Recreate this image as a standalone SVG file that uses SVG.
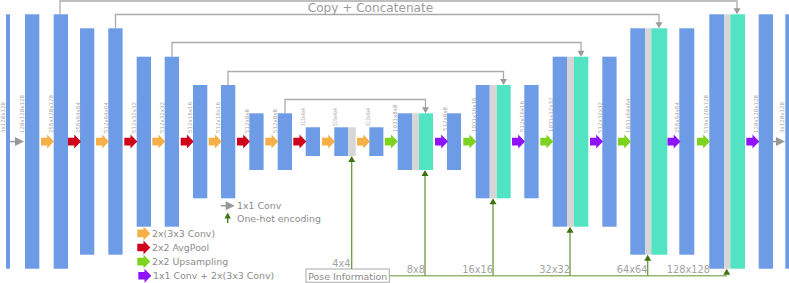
<svg xmlns="http://www.w3.org/2000/svg" xmlns:xlink="http://www.w3.org/1999/xlink" width="789" height="283" viewBox="0 0 789 283">
<style>
.b{fill:#6e9be6}
.g{fill:#d6d6d6}
.t{fill:#52e3c2}
.lbl{font-family:"DejaVu Sans",sans-serif;font-size:5.5px;fill:#a6a6a6}
.skip{fill:none;stroke:#ababab;stroke-width:1.3}
.sh{fill:#9a9a9a}
.ph{fill:none;stroke:#93b874;stroke-width:1.5}
.pv{fill:none;stroke:#6b9a3c;stroke-width:1.3}
.phd{fill:#3f7312}
.leg{font-family:"DejaVu Sans",sans-serif;font-size:9.4px;fill:#8c8c8c}
.sz{font-family:"DejaVu Sans",sans-serif;font-size:9.8px;fill:#a3a3a3}
.or{fill:#f7b048}
.rd{fill:#d0021b}
.gn{fill:#7ed321}
.pu{fill:#9013fe}
.gl{stroke:#999;stroke-width:1.5}
.gh{fill:#999}
</style>
<defs>
<path id="ba" d="M0,-3.8 H6.2 V-7 L13,0 L6.2,7 V3.8 H0 Z"/>
<g id="ga"><path class="gl" d="M0,0 H6"/><path class="gh" d="M5,-4.5 L14,0 L5,4.5 Z"/></g>
<path id="dh" d="M-3.5,-6 L3.5,-6 L0,0 Z"/>
<path id="uh" d="M-3.5,6 L3.5,6 L0,0 Z"/>
</defs>

<g id="n0"><rect class="b" x="6" y="14.3" width="4" height="254.4"/><text class="lbl" transform="translate(5.3,133) rotate(-90)">3x128x128</text></g>
<g id="n1"><rect class="b" x="25" y="14.3" width="14.3" height="254.4"/><text class="lbl" transform="translate(24,133) rotate(-90)">128x128x128</text></g>
<g id="n2"><rect class="b" x="53.7" y="14.3" width="14.3" height="254.4"/><text class="lbl" transform="translate(52.5,133) rotate(-90)">256x128x128</text></g>
<g id="n3"><rect class="b" x="80" y="28.3" width="14.3" height="226.4"/><text class="lbl" transform="translate(79.5,133) rotate(-90)">256x64x64</text></g>
<g id="n4"><rect class="b" x="108.3" y="28.3" width="14.3" height="226.4"/><text class="lbl" transform="translate(107.5,133) rotate(-90)">512x64x64</text></g>
<g id="n5"><rect class="b" x="136.7" y="56.7" width="14.3" height="170"/><text class="lbl" transform="translate(135.5,133) rotate(-90)">512x32x32</text></g>
<g id="n6"><rect class="b" x="164.7" y="56.7" width="14.3" height="170"/><text class="lbl" transform="translate(163.5,133) rotate(-90)">512x32x32</text></g>
<g id="n7"><rect class="b" x="193" y="85" width="14.3" height="113.3"/><text class="lbl" transform="translate(192,133) rotate(-90)">512x16x16</text></g>
<g id="n8"><rect class="b" x="221" y="85" width="14.3" height="113.3"/><text class="lbl" transform="translate(220,133) rotate(-90)">512x16x16</text></g>
<g id="n9"><rect class="b" x="249.3" y="113.3" width="14.3" height="56.7"/><text class="lbl" transform="translate(248.5,133) rotate(-90)">512x8x8</text></g>
<g id="n10"><rect class="b" x="277.7" y="113.3" width="14.3" height="56.7"/><text class="lbl" transform="translate(277,133) rotate(-90)">512x8x8</text></g>
<g id="n11"><rect class="b" x="305.7" y="127.3" width="14.3" height="28.7"/><text class="lbl" transform="translate(305,126) rotate(-90)" textLength="18" lengthAdjust="spacingAndGlyphs">512x4x4</text></g>
<g id="n12"><rect class="b" x="334.3" y="127.3" width="14" height="28.7"/><rect class="g" x="348.3" y="127.3" width="7.4" height="28.7"/><text class="lbl" transform="translate(336.5,126) rotate(-90)" textLength="18" lengthAdjust="spacingAndGlyphs">519x4x4</text></g>
<g id="n13"><rect class="b" x="369.3" y="127.3" width="14.1" height="28.7"/><text class="lbl" transform="translate(370,126) rotate(-90)" textLength="18" lengthAdjust="spacingAndGlyphs">512x4x4</text></g>
<g id="n14"><rect class="b" x="397.7" y="113.3" width="14.3" height="56.7"/><rect class="g" x="412" y="113.3" width="7" height="56.7"/><rect class="t" x="419" y="113.3" width="14" height="56.7"/><text class="lbl" transform="translate(397,132) rotate(-90)">1031x8x8</text></g>
<g id="n15"><rect class="b" x="447" y="113.3" width="14" height="56.7"/><text class="lbl" transform="translate(447,131) rotate(-90)">512x8x8</text></g>
<g id="n16"><rect class="b" x="475.7" y="85" width="14" height="113.3"/><rect class="g" x="489.7" y="85" width="7" height="113.3"/><rect class="t" x="496.7" y="85" width="14" height="113.3"/><text class="lbl" transform="translate(476,132) rotate(-90)">1031x16x16</text></g>
<g id="n17"><rect class="b" x="524.3" y="85" width="14.3" height="113.3"/><text class="lbl" transform="translate(524,132) rotate(-90)">512x16x16</text></g>
<g id="n18"><rect class="b" x="552.7" y="56.7" width="14.3" height="170"/><rect class="g" x="567" y="56.7" width="7" height="170"/><rect class="t" x="574" y="56.7" width="14.3" height="170"/><text class="lbl" transform="translate(552.5,132) rotate(-90)">1031x32x32</text></g>
<g id="n19"><rect class="b" x="602.3" y="56.7" width="14.3" height="170"/><text class="lbl" transform="translate(601.8,133) rotate(-90)">512x32x32</text></g>
<g id="n20"><rect class="b" x="630.3" y="28.3" width="14.7" height="226.4"/><rect class="g" x="645" y="28.3" width="6.3" height="226.4"/><rect class="t" x="651.3" y="28.3" width="16" height="226.4"/><text class="lbl" transform="translate(630,133) rotate(-90)">1031x64x64</text></g>
<g id="n21"><rect class="b" x="679.3" y="28.3" width="15" height="226.4"/><text class="lbl" transform="translate(678.8,133) rotate(-90)">256x64x64</text></g>
<g id="n22"><rect class="b" x="709.3" y="14.3" width="14.7" height="254.4"/><rect class="g" x="724" y="14.3" width="6.3" height="254.4"/><rect class="t" x="730.3" y="14.3" width="14.7" height="254.4"/><text class="lbl" transform="translate(708.3,133) rotate(-90)">519x128x128</text></g>
<g id="n23"><rect class="b" x="758.7" y="14.3" width="14.3" height="254.4"/><text class="lbl" transform="translate(757.5,133) rotate(-90)">128x128x128</text></g>
<g id="n24"><rect class="b" x="785.3" y="14.3" width="4" height="254.4"/><text class="lbl" transform="translate(783.5,133) rotate(-90)">3x128x128</text></g>

<g id="pose">
<rect x="306" y="269" width="83.3" height="13.3" fill="#fff" stroke="#aaa" stroke-width="1"/>
<text class="leg" x="308.3" y="279.6" font-size="9.3" fill="#999">Pose Information</text>
</g>

<g id="connectors">
<use href="#ga" x="10" y="141.6"/>
<use href="#ba" class="or" x="41" y="141.6"/>
<use href="#ba" class="rd" x="68" y="141.6"/>
<use href="#ba" class="or" x="96" y="141.6"/>
<use href="#ba" class="rd" x="124.3" y="141.6"/>
<use href="#ba" class="or" x="152.3" y="141.6"/>
<use href="#ba" class="rd" x="180.7" y="141.6"/>
<use href="#ba" class="or" x="208.7" y="141.6"/>
<use href="#ba" class="rd" x="237" y="141.6"/>
<use href="#ba" class="or" x="265.3" y="141.6"/>
<use href="#ba" class="rd" x="293.3" y="141.6"/>
<use href="#ba" class="or" x="322" y="141.6"/>
<use href="#ba" class="or" x="357" y="141.6"/>
<use href="#ba" class="gn" x="384.8" y="141.6"/>
<use href="#ba" class="pu" x="435" y="141.6"/>
<use href="#ba" class="gn" x="463.3" y="141.6"/>
<use href="#ba" class="pu" x="512" y="141.6"/>
<use href="#ba" class="gn" x="540.3" y="141.6"/>
<use href="#ba" class="pu" x="590" y="141.6"/>
<use href="#ba" class="gn" x="618" y="141.6"/>
<use href="#ba" class="pu" x="667.5" y="141.6"/>
<use href="#ba" class="gn" x="697" y="141.6"/>
<use href="#ba" class="pu" x="746.3" y="141.6"/>
<use href="#ga" x="771" y="141.6"/>

<path class="skip" d="M60,14.3 V1 H737 V9"/>
<use href="#dh" class="sh" x="737" y="14.3"/>
<path class="skip" d="M115.5,28.3 V14.5 H659 V23"/>
<use href="#dh" class="sh" x="659" y="28.3"/>
<path class="skip" d="M172,56.7 V42.5 H581 V51"/>
<use href="#dh" class="sh" x="581" y="56.7"/>
<path class="skip" d="M228,85 V71.5 H503.5 V80"/>
<use href="#dh" class="sh" x="503.5" y="85"/>
<path class="skip" d="M285,113.3 V99.5 H425.5 V108"/>
<use href="#dh" class="sh" x="425.5" y="113.3"/>

<path class="ph" d="M389.3,275.7 H727"/>
<path class="pv" d="M351.7,269 V161"/>
<use href="#uh" class="phd" x="351.7" y="156"/>
<path class="pv" d="M425,275.7 V175"/>
<use href="#uh" class="phd" x="425" y="170"/>
<path class="pv" d="M493,275.7 V203"/>
<use href="#uh" class="phd" x="493" y="198.3"/>
<path class="pv" d="M570,275.7 V232"/>
<use href="#uh" class="phd" x="570" y="226.7"/>
<path class="pv" d="M647.7,275.7 V260"/>
<use href="#uh" class="phd" x="647.7" y="254.7"/>
<use href="#uh" class="phd" x="726.7" y="268.7"/>
</g>

<g id="labels">
<text x="307.7" y="11.8" font-family="DejaVu Sans, sans-serif" font-size="11.5" fill="#9b9b9b" textLength="125.5" lengthAdjust="spacingAndGlyphs">Copy + Concatenate</text>
<text class="sz" x="332.3" y="266.7">4x4</text>
<text class="sz" x="406.7" y="273.3">8x8</text>
<text class="sz" x="462.3" y="273.3">16x16</text>
<text class="sz" x="539.3" y="273.3">32x32</text>
<text class="sz" x="616.7" y="273.3">64x64</text>
<text class="sz" x="666.7" y="273.3">128x128</text>
</g>

<g id="legend">
<use href="#ga" x="220.7" y="205.7"/>
<text class="leg" x="237" y="209">1x1 Conv</text>
<path d="M227.7,223 V217" stroke="#3f7312" stroke-width="1.3"/>
<path class="phd" d="M224.5,218.5 L230.9,218.5 L227.7,212.5 Z"/>
<text class="leg" x="237" y="222.4">One-hot encoding</text>
<use href="#ba" class="or" x="137.3" y="233.4"/>
<text class="leg" x="152" y="236.7">2x(3x3 Conv)</text>
<use href="#ba" class="rd" x="137.3" y="247.5"/>
<text class="leg" x="152" y="250.8">2x2 AvgPool</text>
<use href="#ba" class="gn" x="137.3" y="261.6"/>
<text class="leg" x="152" y="264.9">2x2 Upsampling</text>
<use href="#ba" class="pu" x="138.3" y="275.8"/>
<text class="leg" x="153" y="279.1">1x1 Conv + 2x(3x3 Conv)</text>
</g>
</svg>
